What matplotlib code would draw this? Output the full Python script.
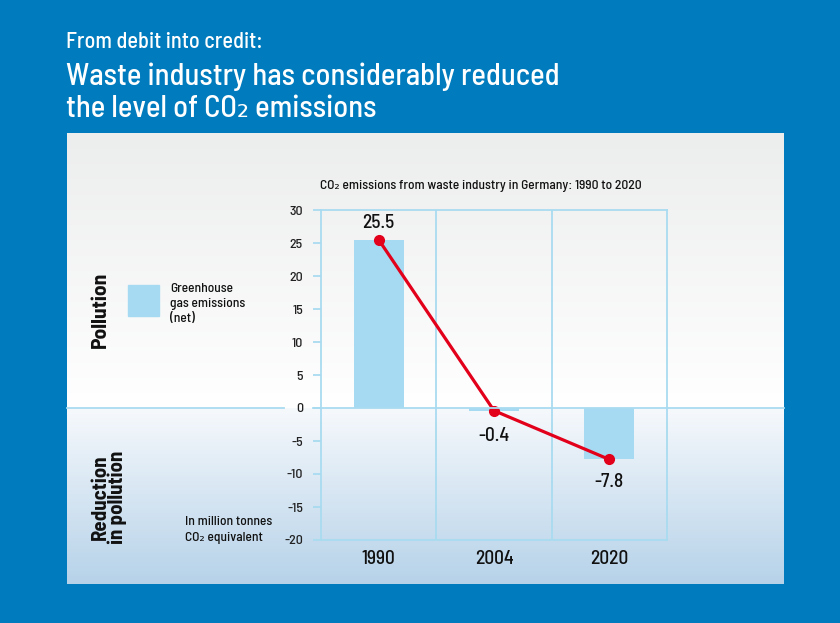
import numpy as np
import matplotlib
matplotlib.use('Agg')
import matplotlib.pyplot as plt
from matplotlib.lines import Line2D
from matplotlib.colors import to_rgb

# data: net greenhouse gas emissions of the waste industry (million t CO2 eq.)
years = ['1990', '2004', '2020']
emissions = [25.5, -0.4, -7.8]
value_labels = ['25.5', '-0.4', '-7.8']
y_ticks = [-20, -15, -10, -5, 0, 5, 10, 15, 20, 25, 30]

FONT = ['Barlow Semi Condensed', 'DejaVu Sans']
plt.rcParams['font.family'] = FONT
plt.rcParams['font.weight'] = 'medium'

BLUE_BG = '#007BBD'
BAR = '#A6DAF2'
GRID = '#A9DBF0'
RED = '#E2001A'

W, H = 840, 623
fig = plt.figure(figsize=(W / 100, H / 100), dpi=100, facecolor=BLUE_BG)


def fx(px):
    return px / W


def fy(py):
    return 1 - py / H


# panel with vertical gradient
p_left, p_right, p_top, p_bot = 67, 784, 133, 584
zero_px = 408
bg = fig.add_axes([fx(p_left), fy(p_bot), fx(p_right - p_left), (p_bot - p_top) / H])
bg.set_axis_off()
rows = p_bot - p_top
grad = np.zeros((rows, 1, 3))
top_c, mid_c = np.array(to_rgb('#ECEDED')), np.array(to_rgb('#FFFFFF'))
low_c, bot_c = np.array(to_rgb('#F6F9FC')), np.array(to_rgb('#B6D2E9'))
split = zero_px - p_top
for i in range(rows):
    if i < split:
        t = i / split
        grad[i, 0] = top_c + (mid_c - top_c) * t
    else:
        t = (i - split) / (rows - split)
        grad[i, 0] = low_c + (bot_c - low_c) * t
bg.imshow(grad, aspect='auto', extent=[0, 1, 0, 1])

# zero line across the panel
fig.add_artist(Line2D([fx(p_left), fx(284)], [fy(zero_px), fy(zero_px)],
                      color=GRID, lw=1.3, zorder=1))
fig.add_artist(Line2D([fx(313), fx(p_right)], [fy(zero_px), fy(zero_px)],
                      color=GRID, lw=1.3, zorder=1))

# headline
fig.text(fx(66), fy(42), 'From debit into credit:', color='white',
         fontsize=16, va='center', ha='left')
fig.text(fx(66), fy(77), 'Waste industry has considerably reduced', color='white',
         fontsize=22, va='center', ha='left')
fig.text(fx(66), fy(109), 'the level of CO₂ emissions', color='white',
         fontsize=22, va='center', ha='left')

# main chart
ax_l, ax_r, ax_t, ax_b = 321, 667, 210, 540
ax = fig.add_axes([fx(ax_l), fy(ax_b), fx(ax_r - ax_l), (ax_b - ax_t) / H])
ax.patch.set_alpha(0)
x = np.arange(len(years))
ax.bar(x, emissions, width=0.435, color=BAR, zorder=2)
ax.plot(x, emissions, color=RED, lw=2.3, marker='o', markersize=7, zorder=4)

offsets = [12, -18, -16]
for xi, val, lab, off in zip(x, emissions, value_labels, offsets):
    ax.annotate(lab, (xi, val), xytext=(0, off), textcoords='offset points',
                ha='center', va='center', fontsize=14, color='#111111')

ax.set_xlim(-0.5, 2.5)
ax.set_ylim(-20, 30)
for xv in [0.5, 1.5]:
    ax.axvline(xv, color=GRID, lw=1.3, zorder=1)
for s in ax.spines.values():
    s.set_color(GRID)
    s.set_linewidth(1.3)
ax.set_yticks(y_ticks)
ax.set_yticklabels([str(v) for v in y_ticks])
ax.tick_params(axis='y', length=6, width=1.3, color=GRID, labelsize=10,
               labelcolor='#222222', pad=7)
ax.set_xticks(x)
ax.set_xticklabels(years)
ax.tick_params(axis='x', length=0, labelsize=14, labelcolor='#111111', pad=7)

fig.text(fx(320), fy(186), 'CO₂ emissions from waste industry in Germany: 1990 to 2020',
         fontsize=9.7, color='#111111', va='center', ha='left')

# side labels and legend
fig.text(fx(100), fy(310), 'Pollution', rotation=90, fontsize=15.5, fontweight='bold',
         va='center', ha='center', color='#111111')
fig.text(fx(109), fy(497), 'Reduction\nin pollution', rotation=90, fontsize=15,
         fontweight='bold', va='center', ha='center', color='#111111', linespacing=0.85)
fig.patches.append(plt.Rectangle((fx(128), fy(316)), fx(31), 31 / H,
                                 transform=fig.transFigure, color=BAR, figure=fig))
fig.text(fx(170), fy(304), 'Greenhouse\ngas emissions\n(net)', fontsize=9.7,
         va='center', ha='left', color='#111111', linespacing=1.3)
fig.text(fx(185), fy(530), 'In million tonnes\nCO₂ equivalent', fontsize=9.7,
         va='center', ha='left', color='#111111', linespacing=1.35)

fig.savefig('out.png', dpi=100, facecolor=BLUE_BG)
